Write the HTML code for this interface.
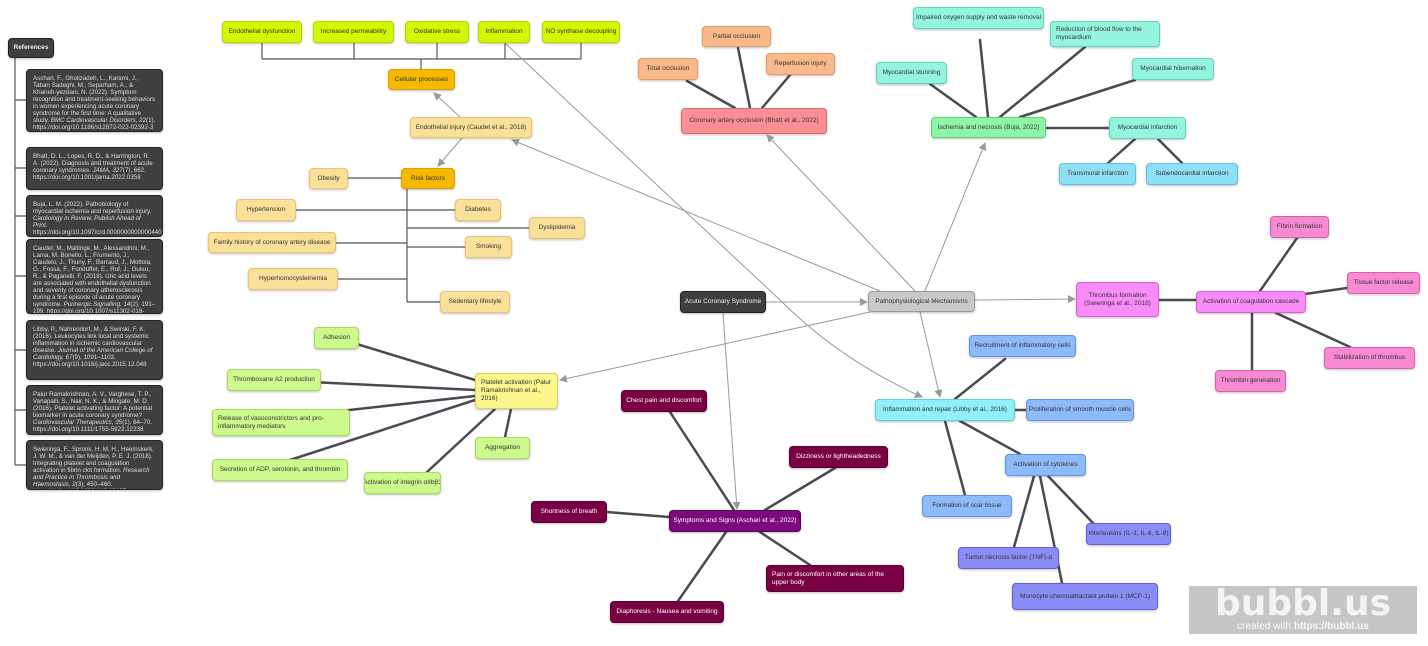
<!DOCTYPE html>
<html><head><meta charset="utf-8"><style>
body{margin:0;width:1428px;height:646px;background:#fff;position:relative;overflow:hidden;font-family:"Liberation Sans",sans-serif}
.n{position:absolute;box-sizing:border-box;border-radius:4px;font-size:6.5px;line-height:8px;padding:0 5px;display:flex;align-items:center;color:#333;box-shadow:0 1px 2px rgba(0,0,0,.25);white-space:nowrap;overflow:hidden}
.c{justify-content:center}
.w{white-space:normal}
.d{background:#3f3f3f;color:#eee;border:1px solid #222}
.ref{position:absolute;box-sizing:border-box;border-radius:4px;box-shadow:0 1px 2px rgba(0,0,0,.25);background:#3f3f3f;color:#ddd;border:1px solid #222;font-size:6.2px;line-height:7px;padding:5px 6px;overflow:hidden;display:block}
.gy{background:#d4f700;border:1px solid #b8d800}
.or{background:#f6b900;border:1px solid #dca000}
.ly{background:#fbe09a;border:1px solid #e6c56e}
.sa{background:#f9b98a;border:1px solid #e29a66}
.rd{background:#f98f94;border:1px solid #d96a70}
.gr{background:#8ff5a8;border:1px solid #5ed07e}
.aq{background:#93f5dd;border:1px solid #60d4ba}
.cy{background:#8fdff7;border:1px solid #5fbfe0}
.gb{background:#c9c9c9;border:1px solid #999}
.pk{background:#f98cf9;border:1px solid #d95fd9}
.pp{background:#f78ad2;border:1px solid #d660ae}
.ic{background:#8ff0fa;border:1px solid #5ed0dc}
.bl{background:#8dbaf9;border:1px solid #6095e0}
.vi{background:#8c8cf6;border:1px solid #6060d8}
.py{background:#fbf58c;border:1px solid #d8d060}
.lg{background:#cdfa8c;border:1px solid #a8d860}
.mg{background:#7c0a7c;color:#fff;border:1px solid #5a005a}
.mr{background:#7a0044;color:#fff;border:1px solid #55002e}
</style></head><body>
<svg width="1428" height="646" style="position:absolute;left:0;top:0">
<defs><marker id="a" markerWidth="8" markerHeight="8" refX="7" refY="4" orient="auto" markerUnits="userSpaceOnUse"><path d="M0,0 L8,4 L0,8z" fill="#999"/></marker></defs>
<g stroke="#555" stroke-width="1.2" fill="none">
<path d="M15,58 V465"/>
<path d="M15,100H26M15,168H26M15,216H26M15,276H26M15,350H26M15,410H26M15,465H26"/>
<path d="M262,43V59M354,43V59M437,43V59M505,43V59M581,43V59M262,59H581M421,59V69"/>
<path d="M407,189V302M348,178H401M296,210H455M407,228H529M336,243H407M407,247H465M338,279H407M407,302H440"/>
</g>
<g stroke="#999" stroke-width="1" fill="none" marker-end="url(#a)">
<line x1="460" y1="117" x2="434" y2="93"/>
<line x1="462" y1="138" x2="438" y2="166"/>
<line x1="766" y1="302" x2="867" y2="302"/>
<line x1="723" y1="313" x2="737" y2="509"/>
<line x1="880" y1="291" x2="512" y2="140"/>
<line x1="915" y1="291" x2="767" y2="135"/>
<line x1="925" y1="291" x2="985" y2="143"/>
<line x1="975" y1="300" x2="1075" y2="299"/>
<line x1="920" y1="312" x2="940" y2="397"/>
<line x1="870" y1="312" x2="560" y2="380"/>
<path d="M505,43 L780,300 Q840,360 922,397"/>
</g>
<g stroke="#4a4a55" stroke-width="2.5" fill="none" stroke-linecap="round">
<line x1="687" y1="81" x2="735" y2="108"/><line x1="738" y1="48" x2="750" y2="108"/><line x1="790" y1="75" x2="762" y2="108"/>
<line x1="980" y1="40" x2="988" y2="117"/><line x1="1085" y1="47" x2="1000" y2="117"/><line x1="930" y1="84" x2="976" y2="117"/><line x1="1135" y1="80" x2="1020" y2="117"/><line x1="1046" y1="128" x2="1109" y2="128"/>
<line x1="1135" y1="139" x2="1108" y2="163"/><line x1="1158" y1="139" x2="1182" y2="163"/>
<line x1="1159" y1="300" x2="1196" y2="300"/><line x1="1297" y1="238" x2="1260" y2="291"/><line x1="1305" y1="294" x2="1347" y2="288"/><line x1="1252" y1="313" x2="1252" y2="370"/><line x1="1276" y1="313" x2="1350" y2="347"/>
<line x1="1005" y1="359" x2="955" y2="399"/><line x1="1015" y1="410" x2="1026" y2="410"/><line x1="945" y1="421" x2="965" y2="495"/><line x1="960" y1="421" x2="1020" y2="454"/>
<line x1="1034" y1="476" x2="1014" y2="547"/><line x1="1040" y1="476" x2="1062" y2="583"/><line x1="1048" y1="476" x2="1093" y2="523"/>
<line x1="337" y1="338" x2="475" y2="380"/><line x1="291" y1="381" x2="475" y2="390"/><line x1="313" y1="414" x2="475" y2="396"/><line x1="290" y1="460" x2="475" y2="400"/><line x1="427" y1="472" x2="495" y2="409"/><line x1="505" y1="437" x2="511" y2="409"/>
<line x1="670" y1="412" x2="734" y2="510"/><line x1="835" y1="468" x2="765" y2="510"/><line x1="607" y1="512" x2="669" y2="517"/><line x1="810" y1="565" x2="760" y2="532"/><line x1="678" y1="601" x2="726" y2="532"/>
</g>
</svg>
<div class="n d c" style="left:8px;top:38px;width:46px;height:20px;font-weight:bold">References</div>
<div class="ref" style="left:26px;top:69px;width:137px;height:63px">Aschari, F., Gholizadeh, L., Karami, J., Taban Sadeghi, M., Separham, A., &amp; Khaneh-yezdani, N. (2022). Symptom recognition and treatment-seeking behaviors in women experiencing acute coronary syndrome for the first time: A qualitative study. <i>BMC Cardiovascular Disorders, 22</i>(1). https://doi.org/10.1186/s12872-022-02392-3</div>
<div class="ref" style="left:26px;top:147px;width:137px;height:43px">Bhatt, D. L., Lopes, R. D., &amp; Harrington, R. A. (2022). Diagnosis and treatment of acute coronary syndromes. <i>JAMA, 327</i>(7), 662. https://doi.org/10.1001/jama.2022.0358</div>
<div class="ref" style="left:26px;top:195px;width:137px;height:42px">Buja, L. M. (2022). Pathobiology of myocardial ischemia and reperfusion injury. <i>Cardiology in Review, Publish Ahead of Print.</i> https://doi.org/10.1097/crd.0000000000000440</div>
<div class="ref" style="left:26px;top:239px;width:137px;height:75px">Caudet, M., Maltinge, M., Alessandrini, M., Lama, M. Bonello, L., Frumento, J., Caudelo, J., Thuny, F., Barraud, J., Mottola, G., Fossa, F., Fonduffet, E., Ruf, J., Guieu, R., &amp; Paganelli, F. (2018). Uric acid levels are associated with endothelial dysfunction and severity of coronary atherosclerosis during a first episode of acute coronary syndrome. <i>Purinergic Signalling, 14</i>(2), 191–199. https://doi.org/10.1007/s11302-018-9604-9</div>
<div class="ref" style="left:26px;top:320px;width:137px;height:60px">Libby, P., Nahrendorf, M., &amp; Swirski, F. K. (2016). Leukocytes link local and systemic inflammation in ischemic cardiovascular disease. <i>Journal of the American College of Cardiology, 67</i>(9), 1091–1103. https://doi.org/10.1016/j.jacc.2015.12.048</div>
<div class="ref" style="left:26px;top:385px;width:137px;height:50px">Palur Ramakrishnan, A. V., Varghese, T. P., Vanapalli, S., Nair, N. K., &amp; Mingate, M. D. (2016). Platelet activating factor: A potential biomarker in acute coronary syndrome? <i>Cardiovascular Therapeutics, 35</i>(1), 64–70. https://doi.org/10.1111/1755-5922.12238</div>
<div class="ref" style="left:26px;top:440px;width:137px;height:50px">Swieringa, F., Spronk, H. M. H., Heemskerk, J. W. M., &amp; van der Meijden, P. E. J. (2018). Integrating platelet and coagulation activation in fibrin clot formation. <i>Research and Practice in Thrombosis and Haemostasis, 2</i>(3), 450–460. https://doi.org/10.1002/rth2.12107</div>

<div class="n gy c" style="left:222px;top:21px;width:80px;height:22px">Endothelial dysfunction</div>
<div class="n gy c" style="left:313px;top:21px;width:81px;height:22px">Increased permeability</div>
<div class="n gy c" style="left:405px;top:21px;width:64px;height:22px">Oxidative stress</div>
<div class="n gy c" style="left:478px;top:21px;width:52px;height:22px">Inflammation</div>
<div class="n gy c" style="left:542px;top:21px;width:78px;height:22px">NO synthase decoupling</div>
<div class="n or c" style="left:388px;top:69px;width:67px;height:21px">Cellular processes</div>
<div class="n ly c" style="left:410px;top:117px;width:122px;height:21px">Endothelial injury (Caudet et al., 2018)</div>
<div class="n or c" style="left:401px;top:168px;width:54px;height:21px">Risk factors</div>
<div class="n ly c" style="left:309px;top:168px;width:39px;height:21px">Obesity</div>
<div class="n ly c" style="left:236px;top:199px;width:60px;height:22px">Hypertension</div>
<div class="n ly c" style="left:455px;top:199px;width:46px;height:22px">Diabetes</div>
<div class="n ly c" style="left:529px;top:217px;width:56px;height:22px">Dyslipidemia</div>
<div class="n ly c" style="left:208px;top:232px;width:128px;height:21px">Family history of coronary artery disease</div>
<div class="n ly c" style="left:465px;top:236px;width:47px;height:22px">Smoking</div>
<div class="n ly c" style="left:248px;top:268px;width:90px;height:22px">Hyperhomocysteinemia</div>
<div class="n ly c" style="left:440px;top:291px;width:70px;height:22px">Sedentary lifestyle</div>

<div class="n rd c" style="left:681px;top:108px;width:146px;height:26px">Coronary artery occlusion (Bhatt et al., 2022)</div>
<div class="n sa c" style="left:638px;top:58px;width:60px;height:22px">Total occlusion</div>
<div class="n sa c" style="left:702px;top:26px;width:69px;height:21px">Partial occlusion</div>
<div class="n sa c" style="left:766px;top:53px;width:69px;height:22px">Reperfusion injury</div>

<div class="n gr c" style="left:931px;top:117px;width:115px;height:21px">Ischemia and necrosis (Buja, 2022)</div>
<div class="n aq c" style="left:913px;top:7px;width:131px;height:22px">Impaired oxygen supply and waste removal</div>
<div class="n aq w" style="left:1050px;top:21px;width:110px;height:26px">Reduction of blood flow to the myocardium</div>
<div class="n aq c" style="left:876px;top:62px;width:71px;height:22px">Myocardial stunning</div>
<div class="n aq c" style="left:1132px;top:58px;width:82px;height:22px">Myocardial hibernation</div>
<div class="n aq c" style="left:1109px;top:117px;width:77px;height:22px">Myocardial infarction</div>
<div class="n cy c" style="left:1059px;top:163px;width:77px;height:22px">Transmural infarction</div>
<div class="n cy c" style="left:1146px;top:163px;width:92px;height:22px">Subendocardial infarction</div>

<div class="n d c" style="left:680px;top:291px;width:86px;height:22px">Acute Coronary Syndrome</div>
<div class="n gb c" style="left:868px;top:291px;width:107px;height:21px">Pathophysiological Mechanisms</div>

<div class="n pk c w" style="left:1076px;top:282px;width:83px;height:35px;text-align:center">Thrombus formation (Swieringa et al., 2018)</div>
<div class="n pk c" style="left:1196px;top:291px;width:110px;height:22px">Activation of coagulation cascade</div>
<div class="n pp c" style="left:1270px;top:216px;width:59px;height:22px">Fibrin formation</div>
<div class="n pp c" style="left:1347px;top:272px;width:73px;height:22px">Tissue factor release</div>
<div class="n pp c" style="left:1324px;top:347px;width:91px;height:22px">Stabilization of thrombus</div>
<div class="n pp c" style="left:1215px;top:370px;width:71px;height:22px">Thrombin generation</div>

<div class="n ic c" style="left:875px;top:399px;width:140px;height:22px">Inflammation and repair (Libby et al., 2016)</div>
<div class="n bl c" style="left:969px;top:335px;width:107px;height:22px">Recruitment of inflammatory cells</div>
<div class="n bl c" style="left:1026px;top:399px;width:108px;height:22px">Proliferation of smooth muscle cells</div>
<div class="n bl c" style="left:1005px;top:454px;width:81px;height:22px">Activation of cytokines</div>
<div class="n bl c" style="left:922px;top:495px;width:90px;height:22px">Formation of scar tissue</div>
<div class="n vi c" style="left:958px;top:547px;width:101px;height:22px">Tumor necrosis factor (TNF)-α</div>
<div class="n vi c" style="left:1086px;top:523px;width:85px;height:22px">Interleukins (IL-1, IL-6, IL-8)</div>
<div class="n vi c" style="left:1012px;top:583px;width:146px;height:27px">Monocyte chemoattractant protein 1 (MCP-1)</div>

<div class="n py w" style="left:475px;top:373px;width:83px;height:36px">Platelet activation (Palur Ramakrishnan et al., 2016)</div>
<div class="n lg c" style="left:314px;top:327px;width:45px;height:22px">Adhesion</div>
<div class="n lg c" style="left:227px;top:369px;width:94px;height:22px">Thromboxane A2 production</div>
<div class="n lg w" style="left:212px;top:409px;width:138px;height:27px">Release of vasoconstrictors and pro-inflammatory mediators</div>
<div class="n lg c" style="left:212px;top:459px;width:136px;height:22px">Secretion of ADP, serotonin, and thrombin</div>
<div class="n lg c" style="left:364px;top:472px;width:77px;height:22px">Activation of integrin αIIbβ3</div>
<div class="n lg c" style="left:475px;top:437px;width:55px;height:22px">Aggregation</div>

<div class="n mg c" style="left:669px;top:510px;width:132px;height:22px">Symptoms and Signs (Aschari et al., 2022)</div>
<div class="n mr c" style="left:621px;top:390px;width:86px;height:22px">Chest pain and discomfort</div>
<div class="n mr c" style="left:789px;top:446px;width:99px;height:22px">Dizziness or lightheadedness</div>
<div class="n mr c" style="left:531px;top:501px;width:76px;height:22px">Shortness of breath</div>
<div class="n mr w" style="left:766px;top:565px;width:138px;height:27px">Pain or discomfort in other areas of the upper body</div>
<div class="n mr c" style="left:610px;top:601px;width:114px;height:22px">Diaphoresis - Nausea and vomiting</div>

<div style="position:absolute;left:1189px;top:586px;width:228px;height:48px;background:#c6c6c6;text-align:center">
<div style="font:bold 36px/34px 'DejaVu Sans',sans-serif;letter-spacing:0px;margin-top:1px;color:#f4f4f4">bubbl.us</div>
<div style="font:10px 'Liberation Sans',sans-serif;color:#fafafa">created with <b>https://bubbl.us</b></div>
</div>
</body></html>
